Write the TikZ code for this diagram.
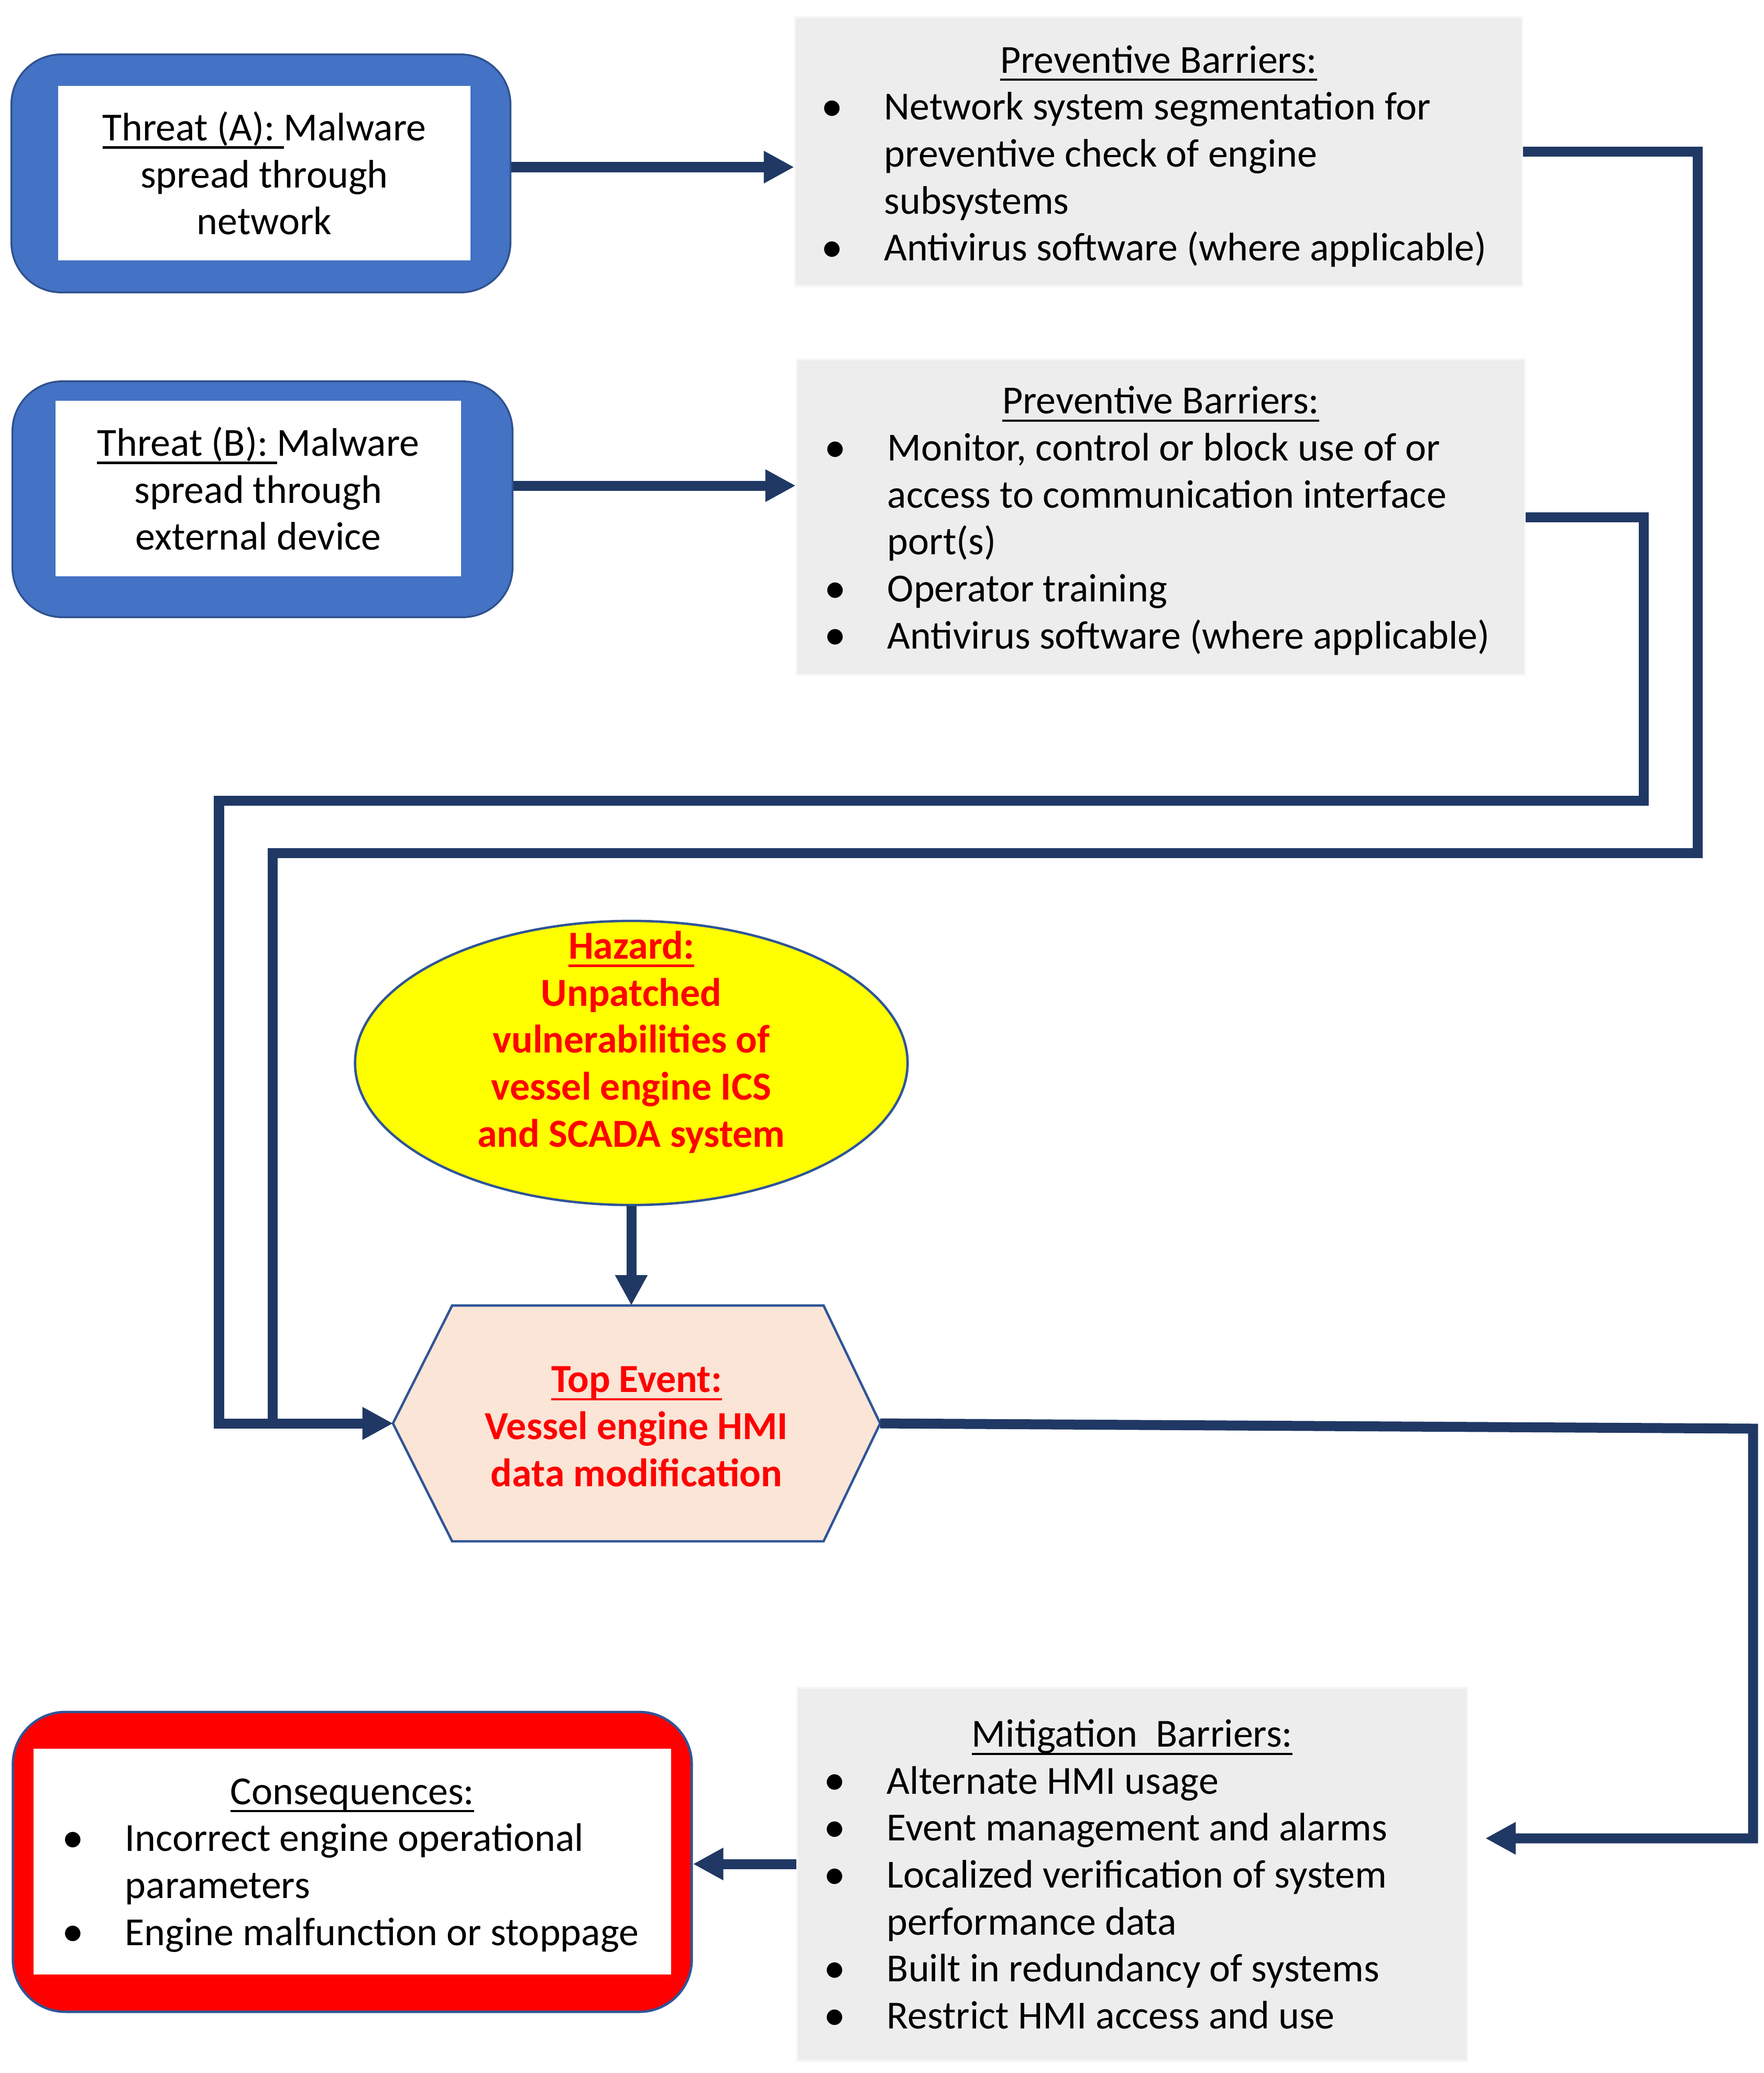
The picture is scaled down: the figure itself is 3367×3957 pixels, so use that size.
\documentclass[tikz,border=0pt]{standalone}
\usepackage{fontspec}
\usepackage{graphicx}
\setmainfont{Carlito}
\usetikzlibrary{arrows.meta,shapes.geometric}
\definecolor{navy}{HTML}{203864}
\definecolor{blueF}{HTML}{4472C4}
\definecolor{blueD}{HTML}{2F528F}
\definecolor{blueL}{HTML}{2F5597}
\definecolor{grayF}{HTML}{EDEDED}
\definecolor{grayE}{HTML}{F6F6F6}
\definecolor{peach}{HTML}{FBE5D6}
\definecolor{redT}{HTML}{FF0000}
\definecolor{yel}{HTML}{FFFF00}
\newcommand{\txt}{\fontsize{21.6pt}{25.5pt}\selectfont}
\newlength{\bw}\setlength{\bw}{0.99cm}
\newcommand{\myul}[1]{\setbox0\hbox{#1}\rlap{\rule[-0.2em]{\wd0}{0.055em}}\box0}
\newcommand{\bigbul}{\raisebox{-0.02em}{\scalebox{1.1}{\textbullet}}}
\newcommand{\bitem}[1]{\mbox{\makebox[0pt][c]{\bigbul}\hspace{\bw}#1}}
\newcommand{\bcont}[1]{\mbox{\hspace{\bw}#1}}
\begin{document}
\begin{tikzpicture}[x=0.01cm,y=-0.01cm,
  threat/.style={draw=blueD, line width=1pt, fill=blueF, rounded corners=0.95cm, inner sep=0pt},
  innerbox/.style={fill=white, inner sep=0pt, align=center, font=\txt},
  gbox/.style={fill=grayF, draw=grayE, line width=1pt, inner sep=0pt, font=\txt},
  conn/.style={draw=navy, line width=0.19cm},
  arr/.style={conn, -{Triangle[length=0.58cm,width=0.58cm]}},
  hz/.style={font=\txt\bfseries, text=redT, align=center, inner sep=0pt}]
\useasboundingbox (0,0) rectangle (3367,3957);

% Threat A
\node[threat, minimum width=9.52cm, minimum height=4.54cm] (thA) at (498,331) {};
\node[innerbox, minimum width=7.87cm, minimum height=3.33cm] (thAi) at (504.5,330.5) {\myul{Threat (A):\ }Malware\\spread through\\network};
% Threat B
\node[threat, minimum width=9.54cm, minimum height=4.50cm] (thB) at (501,953) {};
\node[innerbox, minimum width=7.74cm, minimum height=3.35cm] (thBi) at (493,932.5) {\myul{Threat (B):\ }Malware\\spread through\\external device};

% Preventive barriers 1
\node[gbox, minimum width=13.87cm, minimum height=5.13cm] (pb1) at (2211.5,289.5) {\raisebox{-0.09cm}[\height][\depth]{\parbox{12.45cm}{\raggedright
\makebox[\linewidth][c]{\myul{Preventive Barriers:}}\\
\bitem{Network system segmentation for}\\
\bcont{preventive check of engine}\\
\bcont{subsystems}\\
\bitem{Antivirus software (where applicable)}}}};

% Preventive barriers 2
\node[gbox, minimum width=13.89cm, minimum height=6.02cm] (pb2) at (2215.5,987) {\raisebox{-0.07cm}[\height][\depth]{\parbox{12.41cm}{\raggedright
\makebox[\linewidth][c]{\myul{Preventive Barriers:}}\\
\bitem{Monitor, control or block use of or}\\
\bcont{access to communication interface}\\
\bcont{port(s)}\\
\bitem{Operator training}\\
\bitem{Antivirus software (where applicable)}}}};

% Hazard
\node[ellipse, draw=blueL, line width=1.3pt, fill=yel, minimum width=10.54cm, minimum height=5.42cm, inner sep=0pt] (hazard) at (1205,2029) {};
\node[hz] (hazt) at (1205,1989) {\myul{Hazard:}\\Unpatched\\vulnerabilities of\\vessel engine ICS\\and SCADA system};

% Top event hexagon
\coordinate (hexL) at (750,2717);
\coordinate (hexTL) at (863,2492);
\coordinate (hexTR) at (1572,2492);
\coordinate (hexR) at (1680,2717);
\coordinate (hexBR) at (1572,2942);
\coordinate (hexBL) at (863,2942);
\coordinate (hexT) at (1205,2492);
\draw[fill=peach, draw=blueL, line width=1.3pt] (hexL) -- (hexTL) -- (hexTR) -- (hexR) -- (hexBR) -- (hexBL) -- cycle;
\node[hz] (top) at (1215,2723) {\myul{Top Event:}\\Vessel engine HMI\\data modification};

% Mitigation barriers
\node[gbox, minimum width=12.78cm, minimum height=7.12cm] (mit) at (2161,3578) {\parbox{11.34cm}{\raggedright
\makebox[\linewidth][c]{\myul{Mitigation\ \ Barriers:}}\\
\bitem{Alternate HMI usage}\\
\bitem{Event management and alarms}\\
\bitem{Localized verification of system}\\
\bcont{performance data}\\
\bitem{Built in redundancy of systems}\\
\bitem{Restrict HMI access and use}}};

% Consequences
\node[draw=blueL, line width=1.3pt, fill=redT, rounded corners=1cm, inner sep=0pt, minimum width=12.95cm, minimum height=5.72cm] (consO) at (672.5,3554) {};
\node[fill=white, inner sep=0pt, font=\txt, minimum width=12.17cm, minimum height=4.31cm] (cons) at (672.5,3553.5) {\raisebox{-0.07cm}[\height][\depth]{\parbox{10.65cm}{\raggedright
\makebox[\linewidth][c]{\myul{Consequences:}}\\
\bitem{Incorrect engine operational}\\
\bcont{parameters}\\
\bitem{Engine malfunction or stoppage}}}};

% Connectors
\coordinate (ya) at (0,319);
\coordinate (yb) at (0,927);
\coordinate (yc) at (0,3558);
\coordinate (r1) at (3240,1628);
\coordinate (l1) at (520,2717);
\coordinate (r2) at (3137,1528);
\coordinate (l2) at (418,2717);
\coordinate (rr) at (3346,2727);
\coordinate (mtip) at (2835,3509);

\draw[arr] (thA.east |- ya) -- (pb1.west |- ya);
\draw[arr] (thB.east |- yb) -- (pb2.west |- yb);
\draw[arr] (pb1.east) -| (r1) -| (l1) -- (hexL);
\draw[arr] (pb2.east) -| (r2) -| (l2) -- (hexL);
\draw[arr] (hazard.south) -- (hazard.south |- hexT);
\draw[arr] (hexR) -- (rr) |- (mtip);
\draw[arr] (mit.west |- yc) -- (consO.east |- yc);
\end{tikzpicture}
\end{document}
